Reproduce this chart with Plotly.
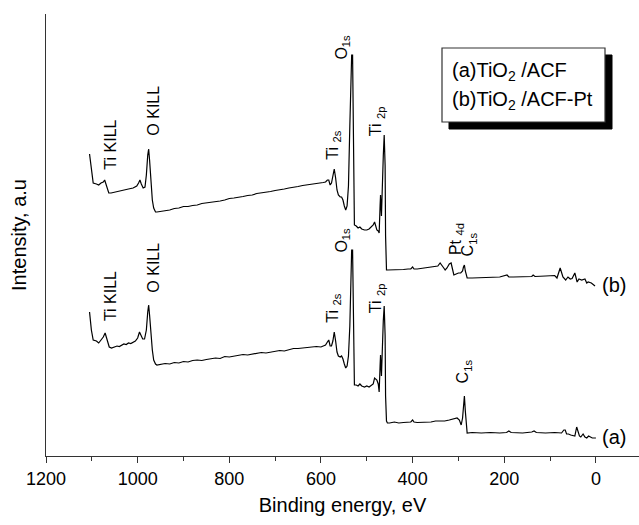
import plotly.graph_objects as go

# ---- data (binding energy in eV, intensity in arbitrary units) ----
energy_a = [1105, 1101, 1097, 1090, 1085, 1080, 1075, 1071, 1067, 1062, 1057, 1050, 1045, 1040, 1035,
            1030, 1025, 1020, 1015, 1010, 1005, 1000, 996, 993, 989, 985, 981, 978, 976, 974, 971,
            968, 965, 961, 958, 950, 940, 930, 920, 910, 900, 890, 880, 870, 860, 850, 840, 830, 820,
            810, 800, 790, 780, 770, 760, 750, 740, 730, 720, 710, 700, 690, 680, 670, 660, 650, 640,
            630, 620, 610, 600, 595, 590, 586, 583, 580, 577, 574, 571, 568, 565, 562, 558, 555, 552,
            549, 546, 543, 540, 537, 535, 533, 531, 529, 528, 527, 523, 519, 515, 511, 505, 500, 495,
            490, 486, 483, 478, 475, 473, 471, 470, 468, 466, 464, 462, 460, 459, 457, 455, 450, 440,
            430, 420, 410, 404, 400, 397, 390, 380, 370, 360, 350, 340, 330, 320, 310, 303, 298, 294,
            291, 289, 287, 285, 283, 281, 270, 250, 230, 210, 195, 190, 185, 160, 140, 135, 130, 110,
            90, 75, 70, 67, 64, 60, 55, 50, 46, 42, 39, 36, 33, 28, 24, 20, 16, 12, 8, 4, 0]
intensity_a = [144, 126, 116, 115, 113, 116, 119, 123, 116, 109, 108, 109, 110, 109.5, 111,
               112, 111.5, 113, 112.5, 114, 115, 118, 124, 121, 117, 117, 126, 144, 151, 141, 121,
               106, 96, 92, 91, 91.5, 92.5, 92, 93.5, 93, 94.5, 94, 95.5, 96, 95.5, 96.5, 97.5, 98, 97.5,
               99.5, 99, 100, 101, 101.5, 101, 102, 103, 103.5, 103, 104, 105, 105.5, 105, 106, 107.5, 107.5, 108,
               108, 109, 109.5, 109, 110, 111, 114, 116, 110, 110, 115, 124, 115, 104, 100, 99, 100, 97,
               92, 88, 90, 100, 130, 170, 206, 206, 140, 90, 71, 71, 70, 72, 70, 69, 70, 69,
               71, 72, 78, 76, 72, 64, 90, 101, 80, 115, 135, 150, 120, 60, 35, 33, 33, 34,
               33, 33.5, 34, 34, 36, 34, 33.5, 33.5, 34, 34, 35, 35, 35, 36, 37, 38, 36, 31,
               38, 50, 60, 45, 28, 23, 23.5, 23, 23.5, 23, 23.5, 25, 23.5, 23, 24, 25, 23.5, 23,
               23.5, 23, 26, 26, 22, 22, 21, 20, 20, 29, 24, 20, 19, 22, 19, 18, 20, 19, 18, 18, 18]

energy_b = [1105, 1101, 1097, 1090, 1085, 1080, 1075, 1072, 1068, 1063, 1058, 1050, 1040, 1030, 1020,
            1010, 1002, 998, 995, 992, 988, 984, 981, 978, 976, 974, 971, 968, 965, 961, 958, 950,
            940, 930, 920, 910, 900, 890, 880, 870, 860, 850, 840, 830, 820, 810, 800, 790, 780, 770,
            760, 750, 740, 730, 720, 710, 700, 690, 680, 670, 660, 650, 640, 630, 620, 610, 600, 595,
            590, 586, 583, 580, 577, 574, 571, 568, 565, 562, 558, 555, 552, 549, 546, 543, 540, 537,
            535, 533, 531, 529, 528, 527, 523, 519, 515, 511, 505, 500, 495, 490, 486, 483, 480, 478,
            475, 473, 471, 470, 468, 466, 464, 462, 460, 459, 457, 455, 450, 440, 430, 420, 410, 404,
            400, 397, 390, 380, 370, 360, 350, 345, 340, 336, 332, 329, 325, 320, 316, 313, 310, 305,
            300, 295, 291, 289, 287, 285, 283, 281, 270, 250, 230, 210, 194, 190, 180, 160, 140, 137,
            133, 110, 90, 85, 78, 72, 66, 61, 56, 52, 46, 41, 37, 31, 24, 20, 17, 10, 2, 0]
intensity_b = [302, 286, 273, 272, 271, 273, 274, 276, 269, 263, 263, 264, 265, 266, 267,
               268, 270, 273, 276, 272, 268, 269, 281, 301, 307, 296, 271, 256, 248, 244, 244, 244.5,
               245.5, 246, 247.5, 248, 249.5, 249.5, 250.5, 251, 252.5, 253, 254, 254.5, 255, 256, 257.5, 258, 258.5, 259.5,
               260.5, 261, 262.5, 263, 263.5, 264.5, 265.5, 266, 267, 268, 268.5, 269.5, 270.5, 271, 271.5, 272.5, 273, 273.5,
               274, 276, 276, 271, 273, 280, 287, 278, 266, 261, 259, 259, 256, 250, 246, 250, 270, 330,
               380, 401, 401, 330, 260, 231, 230, 228, 229, 227, 226, 226, 227, 229, 231, 234, 228, 226,
               225, 223, 250, 261, 240, 280, 300, 321, 290, 220, 186, 186, 186, 186.5, 186, 186.5, 187, 187,
               189, 187, 187, 187.5, 188, 188.5, 189, 190, 193, 191, 188, 186, 188, 192, 193, 187, 181, 182,
               183, 183, 185, 189, 191, 185, 180, 178, 178, 178.5, 178.5, 179, 181, 179, 179, 179, 179.5, 181,
               179.5, 180, 180.5, 178, 188, 179, 176, 179, 177, 177.5, 183, 174, 177, 176, 177, 173, 174, 173, 170]

series_labels = ["(a)", "(b)"]
legend_texts = ["(a)TiO<sub>2</sub> /ACF", "(b)TiO<sub>2</sub> /ACF-Pt"]

# peak annotations: (text, energy, intensity)
peaks_a = [("Ti KILL", 1071, 123), ("O KILL", 976, 151), ("Ti <sub>2s</sub>", 571, 124),
           ("O<sub>1s</sub>", 532, 206), ("Ti <sub>2p</sub>", 462, 150), ("C<sub>1s</sub>", 287, 60)]
peaks_b = [("Ti KILL", 1072, 276), ("O KILL", 976, 307), ("Ti <sub>2s</sub>", 571, 287),
           ("O<sub>1s</sub>", 532, 401), ("Ti <sub>2p</sub>", 462, 321), ("Pt <sub>4d</sub>", 316, 193),
           ("C<sub>1s</sub>", 287, 191)]

FONT = "Liberation Sans, Arial, sans-serif"

fig = go.Figure()
fig.add_trace(go.Scatter(x=energy_a, y=intensity_a, mode="lines",
                         line=dict(color="black", width=1.2), showlegend=False))
fig.add_trace(go.Scatter(x=energy_b, y=intensity_b, mode="lines",
                         line=dict(color="black", width=1.2), showlegend=False))

# offsets (px) for each label relative to its peak: (xshift, yshift)
shift_a = {"Ti KILL": (5, 10), "O KILL": (4, 10), "Ti <sub>2s</sub>": (-1, 7),
           "O<sub>1s</sub>": (-10, -5), "Ti <sub>2p</sub>": (-8, -9), "C<sub>1s</sub>": (-1, 11)}
shift_b = {"Ti KILL": (5, 8), "O KILL": (4, 11), "Ti <sub>2s</sub>": (-1, 7),
           "O<sub>1s</sub>": (-10, -7), "Ti <sub>2p</sub>": (-8, -3), "Pt <sub>4d</sub>": (5, 6),
           "C<sub>1s</sub>": (4, 7)}

for peaks, shifts in ((peaks_a, shift_a), (peaks_b, shift_b)):
    for text, e, i in peaks:
        xs, ys = shifts[text]
        fig.add_annotation(x=e, y=i, xref="x", yref="y", text=text, showarrow=False,
                           textangle=-90, xanchor="center", yanchor="bottom",
                           xshift=xs, yshift=ys,
                           font=dict(family=FONT, size=16, color="black"))

# series end labels
for lab, ex, ey in ((series_labels[0], energy_a[-1], intensity_a[-1]),
                    (series_labels[1], energy_b[-1], intensity_b[-1])):
    fig.add_annotation(x=ex, y=ey, xref="x", yref="y", text=lab, showarrow=False,
                       xanchor="left", yanchor="middle", xshift=4, yshift=1,
                       font=dict(family=FONT, size=20, color="black"))

# legend box with shadow (paper coords: plot area x 46..639, y 14..456)
def px_to_paper_x(px):
    return (px - 46) / 593.0

def px_to_paper_y(py):
    return (456 - py) / 442.0

fig.add_shape(type="rect", xref="paper", yref="paper",
              x0=px_to_paper_x(449), x1=px_to_paper_x(612),
              y0=px_to_paper_y(129), y1=px_to_paper_y(55),
              fillcolor="black", line=dict(color="black", width=1), layer="above")
fig.add_shape(type="rect", xref="paper", yref="paper",
              x0=px_to_paper_x(442), x1=px_to_paper_x(605),
              y0=px_to_paper_y(122), y1=px_to_paper_y(48),
              fillcolor="white", line=dict(color="#333333", width=1.2), layer="above")
for k, txt in enumerate(legend_texts):
    fig.add_annotation(x=px_to_paper_x(450), y=px_to_paper_y(71 + 30 * k), xref="paper", yref="paper",
                       text=txt, showarrow=False, xanchor="left", yanchor="middle",
                       font=dict(family=FONT, size=20, color="black"))

fig.update_layout(
    width=639, height=525,
    margin=dict(l=46, r=0, t=14, b=69),
    paper_bgcolor="white", plot_bgcolor="white",
    font=dict(family=FONT, color="black"),
    xaxis=dict(range=[1200, -94], showgrid=False, zeroline=False,
               showline=True, linecolor="#333333", linewidth=1.2,
               tickmode="array", tickvals=[1200, 1000, 800, 600, 400, 200, 0],
               ticks="outside", ticklen=6, tickwidth=1.2, tickcolor="#333333",
               minor=dict(tickvals=[1100, 900, 700, 500, 300, 100], ticks="outside",
                          ticklen=4, tickwidth=1.2, tickcolor="#333333"),
               tickfont=dict(family=FONT, size=18, color="black"),
               title=dict(text="Binding energy, eV", font=dict(family=FONT, size=20, color="black"),
                          standoff=10)),
    yaxis=dict(range=[0, 442], showgrid=False, zeroline=False, showticklabels=False,
               showline=True, linecolor="#333333", linewidth=1.2, ticks="",
               title=dict(text="Intensity, a.u", font=dict(family=FONT, size=20, color="black"),
                          standoff=12)),
)

fig.write_html("out.html")
